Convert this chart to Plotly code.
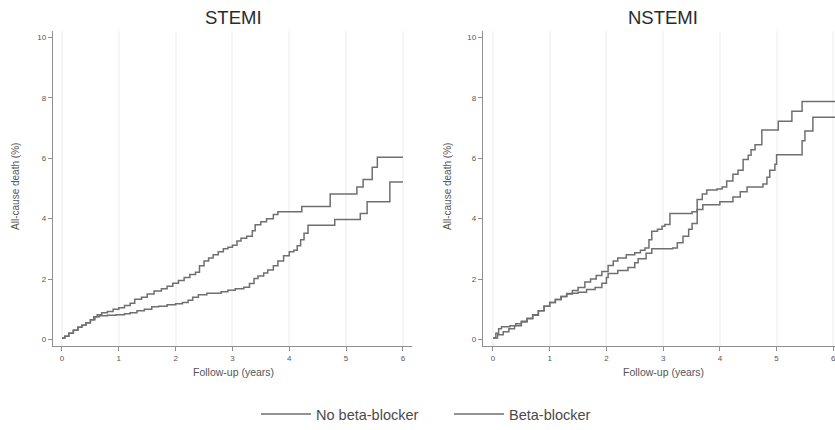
import plotly.graph_objects as go

# Kaplan-Meier style cumulative all-cause death (%), by follow-up time (years)
stemi_no_bb_t = [0, 0.05, 0.12, 0.2, 0.28, 0.35, 0.42, 0.5, 0.56, 0.62, 0.7, 0.8, 0.9, 1.0, 1.1,
                 1.2, 1.28, 1.4, 1.5, 1.62, 1.75, 1.85, 1.95, 2.05, 2.15, 2.25, 2.35, 2.42, 2.5,
                 2.58, 2.66, 2.75, 2.84, 2.92, 3.0, 3.08, 3.15, 3.25, 3.35, 3.4, 3.5, 3.6, 3.72,
                 3.8, 4.22, 4.72, 5.19, 5.3, 5.46, 5.55, 6.0]
stemi_no_bb_y = [0.05, 0.1, 0.2, 0.3, 0.4, 0.47, 0.55, 0.65, 0.75, 0.82, 0.88, 0.92, 1.0, 1.05, 1.12,
                 1.2, 1.33, 1.4, 1.5, 1.6, 1.68, 1.76, 1.86, 1.95, 2.05, 2.15, 2.22, 2.44, 2.6,
                 2.7, 2.8, 2.9, 3.0, 3.05, 3.12, 3.26, 3.35, 3.42, 3.6, 3.8, 3.9, 4.0, 4.14,
                 4.23, 4.4, 4.82, 5.05, 5.3, 5.7, 6.03, 6.03]

stemi_bb_t = [0, 0.05, 0.12, 0.2, 0.28, 0.35, 0.42, 0.5, 0.58, 0.66, 0.8, 0.95, 1.1, 1.2, 1.32,
              1.45, 1.58, 1.7, 1.85, 2.0, 2.12, 2.22, 2.3, 2.4, 2.55, 2.8, 2.92, 3.05, 3.2, 3.3,
              3.38, 3.45, 3.55, 3.62, 3.72, 3.8, 3.9, 4.0, 4.08, 4.14, 4.2, 4.26, 4.33, 4.8,
              5.25, 5.37, 5.77, 6.0]
stemi_bb_y = [0.05, 0.1, 0.2, 0.3, 0.4, 0.47, 0.55, 0.65, 0.75, 0.78, 0.8, 0.82, 0.85, 0.88, 0.95,
              1.0, 1.08, 1.1, 1.15, 1.18, 1.22, 1.3, 1.4, 1.48, 1.53, 1.58, 1.63, 1.68, 1.73, 1.85,
              2.02, 2.1, 2.2, 2.3, 2.44, 2.6, 2.77, 2.9, 2.95, 3.1, 3.3, 3.52, 3.78, 3.97,
              4.17, 4.56, 5.21, 5.21]

nstemi_no_bb_t = [0, 0.05, 0.1, 0.15, 0.3, 0.4, 0.5, 0.6, 0.7, 0.8, 0.9, 1.0, 1.1, 1.2, 1.3,
                  1.4, 1.5, 1.62, 1.72, 1.82, 1.92, 2.03, 2.12, 2.2, 2.35, 2.5, 2.6, 2.68, 2.75,
                  2.8, 2.9, 2.98, 3.03, 3.12, 3.51, 3.6, 3.69, 3.77, 3.95, 4.04, 4.12, 4.23, 4.32,
                  4.41, 4.5, 4.55, 4.62, 4.74, 5.03, 5.27, 5.45, 6.1]
nstemi_no_bb_y = [0.05, 0.2, 0.35, 0.42, 0.45, 0.52, 0.6, 0.7, 0.82, 0.95, 1.1, 1.22, 1.32, 1.42, 1.52,
                  1.62, 1.72, 1.9, 2.0, 2.12, 2.25, 2.45, 2.6, 2.7, 2.8, 2.87, 2.95, 3.03, 3.3,
                  3.58, 3.65, 3.75, 3.81, 4.17, 4.23, 4.63, 4.82, 4.95, 4.98, 5.05, 5.25, 5.47, 5.6,
                  5.96, 6.1, 6.28, 6.45, 6.94, 7.23, 7.56, 7.88, 7.88]

nstemi_bb_t = [0, 0.08, 0.18, 0.28, 0.38, 0.5, 0.6, 0.7, 0.8, 0.9, 1.0, 1.1, 1.2, 1.3, 1.4,
               1.5, 1.65, 1.8, 1.92, 2.0, 2.03, 2.2, 2.38, 2.5, 2.56, 2.7, 2.8, 3.17, 3.25, 3.35,
               3.45, 3.51, 3.6, 3.7, 4.0, 4.23, 4.36, 4.48, 4.76, 4.83, 4.88, 4.97, 5.0, 5.45,
               5.5, 5.64, 6.1]
nstemi_bb_y = [0.05, 0.15, 0.25, 0.35, 0.45, 0.58, 0.68, 0.8, 0.95, 1.1, 1.22, 1.32, 1.42, 1.5, 1.53,
               1.56, 1.65, 1.72, 1.86, 2.05, 2.18, 2.28, 2.38, 2.54, 2.67, 2.85, 3.0, 3.03, 3.2, 3.42,
               3.65, 3.84, 4.3, 4.46, 4.56, 4.72, 4.89, 5.05, 5.15, 5.37, 5.6, 5.8, 6.12, 6.58,
               6.9, 7.36, 7.36]

panel_titles = ["STEMI", "NSTEMI"]
series_names = ["No beta-blocker", "Beta-blocker"]
x_ticks = [0, 1, 2, 3, 4, 5, 6]
y_ticks = [0, 2, 4, 6, 8, 10]

W, H = 835, 430
LINE = "#6f6f6f"
AXIS = "#8f8f8f"
TXT = "#555555"
FONT = "Liberation Sans, Arial, sans-serif"

fig = go.Figure()

panels = [
    ("x", "y", stemi_no_bb_t, stemi_no_bb_y, stemi_bb_t, stemi_bb_y),
    ("x2", "y2", nstemi_no_bb_t, nstemi_no_bb_y, nstemi_bb_t, nstemi_bb_y),
]
for i, (xa, ya, t1, y1, t2, y2) in enumerate(panels):
    fig.add_trace(go.Scatter(x=t1, y=y1, mode="lines", line=dict(color=LINE, width=1.5, shape="hv"),
                             name=series_names[0], showlegend=(i == 0), xaxis=xa, yaxis=ya))
    fig.add_trace(go.Scatter(x=t2, y=y2, mode="lines", line=dict(color=LINE, width=1.5, shape="hv"),
                             name=series_names[1], showlegend=(i == 0), xaxis=xa, yaxis=ya))

axis_common = dict(showline=True, linecolor=AXIS, linewidth=1.3, ticks="outside", ticklen=4,
                   tickcolor=AXIS, tickwidth=1, zeroline=False, ticklabeloverflow="allow",
                   tickfont=dict(family=FONT, size=8, color=TXT))

y_dom = [78 / H, 398 / H]
x1_dom = [53 / W, 412 / W]
x2_dom = [483 / W, 1.0]
GRID = "#f5f5f5"

fig.update_layout(
    width=W, height=H,
    margin=dict(l=0, r=0, t=0, b=0),
    paper_bgcolor="white", plot_bgcolor="white",
    xaxis=dict(domain=x1_dom, range=[-0.158, 6.16], tickvals=x_ticks, showgrid=True,
               gridcolor=GRID, gridwidth=1.5, anchor="y", **axis_common),
    yaxis=dict(domain=y_dom, range=[-0.228, 10.2], tickvals=y_ticks, showgrid=False,
               anchor="x", **axis_common),
    xaxis2=dict(domain=x2_dom, range=[-0.176, 6.03], tickvals=x_ticks, showgrid=True,
                gridcolor=GRID, gridwidth=1.5, anchor="y2", **axis_common),
    yaxis2=dict(domain=y_dom, range=[-0.228, 10.2], tickvals=y_ticks, showgrid=False,
                anchor="x2", **axis_common),
    legend=dict(orientation="h", x=256 / W, xanchor="left", y=9 / H, yanchor="middle",
                font=dict(family=FONT, size=14.5, color="#4a4a4a"), itemwidth=50,
                entrywidth=128, entrywidthmode="pixels", bgcolor="rgba(0,0,0,0)"),
    showlegend=True,
)

# Panel titles and axis titles
centers = [233, 663]
ytitle_x = [16, 448]
for i in range(2):
    fig.add_annotation(text=panel_titles[i], x=centers[i] / W, y=1 - 18 / H, xref="paper", yref="paper",
                       showarrow=False, xanchor="center", yanchor="middle",
                       font=dict(family=FONT, size=18.5, color="#2b2b2b"))
    fig.add_annotation(text="Follow-up (years)", x=centers[i] / W, y=1 - 378 / H, xref="paper",
                       yref="paper", showarrow=False, xanchor="center", yanchor="middle",
                       font=dict(family=FONT, size=10.5, color=TXT))
    fig.add_annotation(text="All-cause death (%)", x=ytitle_x[i] / W, y=1 - 190 / H, xref="paper",
                       yref="paper", showarrow=False, xanchor="center", yanchor="middle", textangle=-90,
                       font=dict(family=FONT, size=10, color=TXT))

fig.write_html("out.html")
